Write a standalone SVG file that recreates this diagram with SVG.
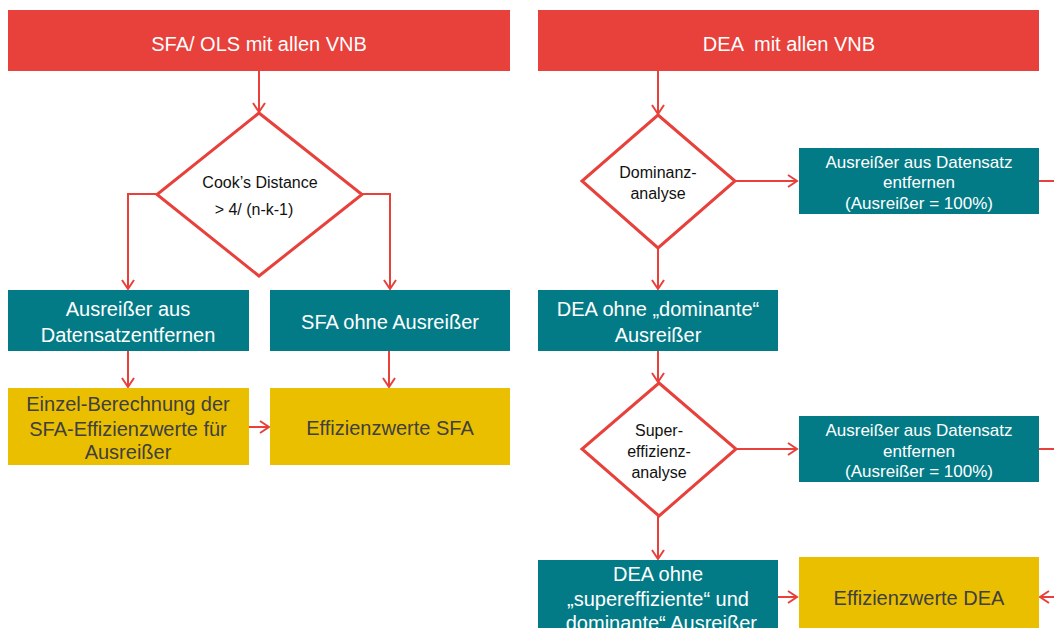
<svg xmlns="http://www.w3.org/2000/svg" width="1054" height="628" viewBox="0 0 1054 628">
<style>
.red{fill:#E8403A}
.teal{fill:#037B87}
.yel{fill:#EABF00}
.dia{fill:#FFFFFF;stroke:#E8403A;stroke-width:3;stroke-linejoin:miter}
.t{font-family:"Liberation Sans",Arial,sans-serif;text-anchor:middle}
.w20{fill:#FFFFFF;font-size:20px}
.w17{fill:#FFFFFF;font-size:17px}
.g20{fill:#404040;font-size:20px}
.k16{fill:#111111;font-size:16px}
.c{fill:none;stroke:#E8403A;stroke-width:2}
</style>
<defs>
<marker id="ah" markerUnits="userSpaceOnUse" markerWidth="14" markerHeight="14" refX="10" refY="7" orient="auto">
<path d="M1,1 L10,7 L1,13" fill="none" stroke="#E8403A" stroke-width="2"/>
</marker>
</defs>
<rect width="1054" height="628" fill="#FFFFFF"/>

<g id="connectors">
<path class="c" d="M259,71 V112" marker-end="url(#ah)"/>
<path class="c" d="M157,194 H128 V289" marker-end="url(#ah)"/>
<path class="c" d="M362,194 H390 V289" marker-end="url(#ah)"/>
<path class="c" d="M128,351 V387" marker-end="url(#ah)"/>
<path class="c" d="M389,351 V387" marker-end="url(#ah)"/>
<path class="c" d="M249,427 H269" marker-end="url(#ah)"/>
<path class="c" d="M658,71 V114" marker-end="url(#ah)"/>
<path class="c" d="M735,181 H797" marker-end="url(#ah)"/>
<path class="c" d="M1039,181 H1054"/>
<path class="c" d="M658,248 V289" marker-end="url(#ah)"/>
<path class="c" d="M658,351 V382" marker-end="url(#ah)"/>
<path class="c" d="M736,449 H797" marker-end="url(#ah)"/>
<path class="c" d="M1039,449 H1054"/>
<path class="c" d="M658,516 V559" marker-end="url(#ah)"/>
<path class="c" d="M778,597 H797" marker-end="url(#ah)"/>
<path class="c" d="M1054,597 H1040" marker-end="url(#ah)"/>
</g>

<g id="sfa-start">
<rect class="red" x="8" y="10" width="502" height="61"/>
<text class="t w20" x="259" y="51">SFA/ OLS mit allen VNB</text>
</g>
<g id="dea-start">
<rect class="red" x="538" y="10" width="501" height="61"/>
<text class="t w20" x="789" y="51" xml:space="preserve">DEA  mit allen VNB</text>
</g>

<g id="cooks">
<polygon class="dia" points="259,113 362,194.5 259,276 157,194.5"/>
<text class="t k16" x="260" y="188">Cook’s Distance</text>
<text class="t k16" x="254" y="215">&gt; 4/ (n-k-1)</text>
</g>

<g id="sfa-remove">
<rect class="teal" x="8" y="290" width="241" height="61"/>
<text class="t w20" x="128" y="316">Ausreißer aus</text>
<text class="t w20" x="128" y="342">Datensatzentfernen</text>
</g>
<g id="sfa-without">
<rect class="teal" x="270" y="290" width="240" height="61"/>
<text class="t w20" x="390" y="329">SFA ohne Ausreißer</text>
</g>
<g id="sfa-single">
<rect class="yel" x="8" y="388" width="241" height="77"/>
<text class="t g20" x="128" y="411">Einzel-Berechnung der</text>
<text class="t g20" x="128" y="436">SFA-Effizienzwerte für</text>
<text class="t g20" x="128" y="459">Ausreißer</text>
</g>
<g id="sfa-values">
<rect class="yel" x="270" y="388" width="240" height="77"/>
<text class="t g20" x="390" y="435">Effizienzwerte SFA</text>
</g>

<g id="dominanz">
<polygon class="dia" points="658,115 735,181 658,248 582,181"/>
<text class="t k16" x="658" y="178">Dominanz-</text>
<text class="t k16" x="658" y="199">analyse</text>
</g>
<g id="remove1">
<rect class="teal" x="799" y="148" width="240" height="66"/>
<text class="t w17" x="919" y="168">Ausreißer aus Datensatz</text>
<text class="t w17" x="919" y="188">entfernen</text>
<text class="t w17" x="919" y="209">(Ausreißer = 100%)</text>
</g>
<g id="dea-dominant">
<rect class="teal" x="538" y="290" width="240" height="61"/>
<text class="t w20" x="658" y="316">DEA ohne „dominante“</text>
<text class="t w20" x="658" y="342">Ausreißer</text>
</g>
<g id="supereff">
<polygon class="dia" points="659,383 736,449 659,516 582,449"/>
<text class="t k16" x="659" y="436">Super-</text>
<text class="t k16" x="659" y="457">effizienz-</text>
<text class="t k16" x="659" y="478">analyse</text>
</g>
<g id="remove2">
<rect class="teal" x="799" y="416" width="240" height="66"/>
<text class="t w17" x="919" y="436">Ausreißer aus Datensatz</text>
<text class="t w17" x="919" y="457">entfernen</text>
<text class="t w17" x="919" y="477">(Ausreißer = 100%)</text>
</g>
<g id="dea-final">
<rect class="teal" x="538" y="560" width="240" height="80"/>
<text class="t w20" x="658" y="581">DEA ohne</text>
<text class="t w20" x="658" y="606">„supereffiziente“ und</text>
<text class="t w20" x="658" y="630">„dominante“ Ausreißer</text>
</g>
<g id="dea-values">
<rect class="yel" x="799" y="557" width="240" height="80"/>
<text class="t g20" x="919" y="605">Effizienzwerte DEA</text>
</g>
</svg>
